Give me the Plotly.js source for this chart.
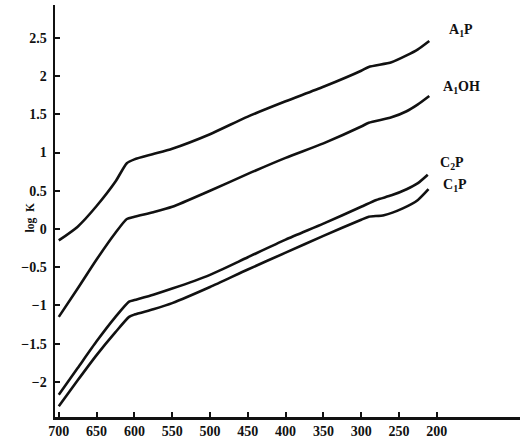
<!DOCTYPE html>
<html>
<head>
<meta charset="utf-8">
<script src="https://cdn.plot.ly/plotly-3.0.1.min.js"></script>
<style>html,body{margin:0;padding:0;background:#fff;}#chart{width:520px;height:440px;}</style>
</head>
<body>
<div id="chart"></div>
<script>
// Temperature-like x values (axis reversed, 700 -> 200)
const xA1P  = [700, 675, 650, 625, 610, 600, 575, 550, 500, 450, 400, 350, 300, 290, 260, 240, 225, 210];
const yA1P  = [-0.15, 0.03, 0.30, 0.62, 0.86, 0.91, 0.98, 1.05, 1.24, 1.47, 1.67, 1.86, 2.07, 2.12, 2.18, 2.27, 2.35, 2.46];

const xA1OH = [700, 675, 650, 625, 610, 600, 575, 550, 500, 450, 400, 350, 300, 290, 260, 240, 225, 210];
const yA1OH = [-1.15, -0.78, -0.40, -0.05, 0.13, 0.16, 0.22, 0.29, 0.50, 0.72, 0.93, 1.12, 1.34, 1.39, 1.46, 1.54, 1.63, 1.74];

const xC2P  = [700, 675, 650, 625, 607, 600, 575, 550, 500, 450, 400, 350, 300, 280, 260, 240, 225, 212];
const yC2P  = [-2.17, -1.82, -1.47, -1.15, -0.95, -0.93, -0.86, -0.78, -0.60, -0.37, -0.14, 0.07, 0.29, 0.38, 0.44, 0.52, 0.60, 0.71];

const xC1P  = [700, 675, 650, 625, 607, 600, 575, 550, 500, 450, 400, 350, 300, 290, 270, 245, 225, 211];
const yC1P  = [-2.32, -1.98, -1.65, -1.35, -1.15, -1.12, -1.05, -0.97, -0.76, -0.53, -0.31, -0.09, 0.12, 0.16, 0.18, 0.27, 0.38, 0.52];

const seriesNames = ["A<sub>1</sub>P", "A<sub>1</sub>OH", "C<sub>2</sub>P", "C<sub>1</sub>P"];
const labelX = [168, 167, 180, 176];
const labelY = [2.60, 1.85, 0.85, 0.57];
const xTicks = [700, 650, 600, 550, 500, 450, 400, 350, 300, 250, 200];
const yTicks = [-2, -1.5, -1, -0.5, 0, 0.5, 1, 1.5, 2, 2.5];
const yTickText = ["−2", "−1.5", "−1", "−0.5", "0", "0.5", "1", "1.5", "2", "2.5"];

const lineStyle = {color: "#111", width: 2.6, shape: "spline", smoothing: 0.6};
const xs = [xA1P, xA1OH, xC2P, xC1P];
const ys = [yA1P, yA1OH, yC2P, yC1P];
const traces = xs.map((x, i) => ({
  x: x, y: ys[i], type: "scatter", mode: "lines", name: seriesNames[i],
  line: lineStyle, hoverinfo: "skip"
}));

const fam = "Liberation Serif";
const annotations = seriesNames.map((n, i) => ({
  x: labelX[i], y: labelY[i], xref: "x", yref: "y",
  text: "<b>" + n + "</b>", showarrow: false,
  font: {family: fam, size: 14, color: "#111"}
}));
annotations.push({
  xref: "paper", yref: "y", x: -0.07, y: 0.15, text: "<b>log  K</b>",
  textangle: -90, showarrow: false,
  font: {family: fam, size: 11.5, color: "#111"}
});

const axisCommon = {
  showgrid: false, zeroline: false,
  showline: true, linecolor: "#111", linewidth: 2.5,
  ticks: "inside", ticklen: 5, tickwidth: 2, tickcolor: "#111"
};

const layout = {
  width: 520, height: 440,
  margin: {l: 55, r: 0, t: 5, b: 23},
  paper_bgcolor: "#fff", plot_bgcolor: "#fff",
  showlegend: false,
  font: {family: fam, color: "#111", size: 13},
  xaxis: Object.assign({}, axisCommon, {
    range: [705, 90],
    tickvals: xTicks, ticktext: xTicks.map(v => "<b>" + v + "</b>"),
    tickfont: {family: fam, size: 14, color: "#111"}
  }),
  yaxis: Object.assign({}, axisCommon, {
    range: [-2.46, 2.93],
    ticklabelstandoff: 3,
    tickvals: yTicks, ticktext: yTickText.map(v => "<b>" + v + "</b>"),
    tickfont: {family: fam, size: 14, color: "#111"}
  }),
  annotations: annotations
};

Plotly.newPlot("chart", traces, layout, {staticPlot: true, displayModeBar: false});
</script>
</body>
</html>
